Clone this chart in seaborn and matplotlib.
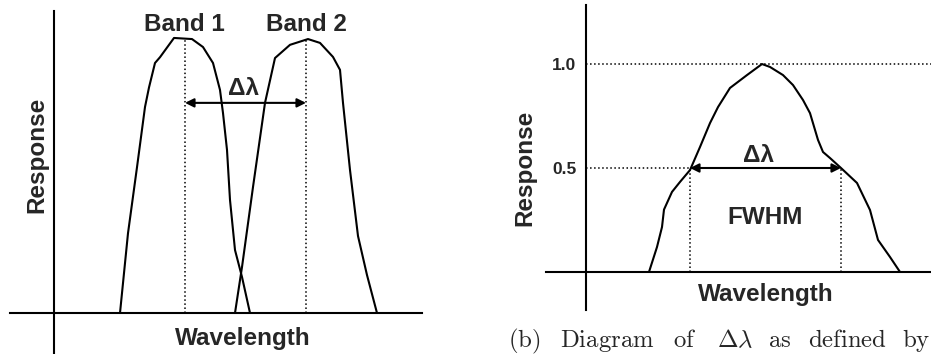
import numpy as np
import pandas as pd
import matplotlib
matplotlib.use('Agg')
import matplotlib.pyplot as plt
import seaborn as sns

# Painel (a): duas bandas espectrais (comprimento de onda em unidades arbitrárias)
band1_w = [6.6, 7.4, 8.3, 9.1, 9.5, 10.1, 10.6, 12.0, 13.8, 14.9, 15.9, 16.6, 16.9, 17.3, 17.6, 18.1, 18.8, 19.6]
band1_r = [0.0, 0.29, 0.53, 0.749, 0.82, 0.909, 0.93, 1.0, 0.996, 0.967, 0.909, 0.811, 0.727, 0.593, 0.411, 0.229, 0.131, 0.0]
band2_w = [18.1, 18.8, 19.9, 21.1, 22.1, 23.6, 25.4, 26.6, 27.9, 28.6, 28.9, 29.6, 30.4, 31.3, 32.3]
band2_r = [0.0, 0.167, 0.458, 0.764, 0.927, 0.975, 0.996, 0.982, 0.931, 0.884, 0.764, 0.52, 0.28, 0.138, 0.0]
center1 = 13.1
center2 = 25.2

# Painel (b): definição FWHM
fwhm_w = [6.3, 7.1, 7.6, 7.8, 8.6, 9.4, 10.4, 11.4, 12.4, 13.2, 14.4, 16.1, 17.6, 18.4, 19.7,
          20.7, 21.7, 22.4, 23.2, 23.7, 24.4, 25.5, 27.1, 28.4, 29.2, 30.4, 31.4]
fwhm_r = [0.0, 0.120, 0.216, 0.300, 0.385, 0.433, 0.490, 0.601, 0.716, 0.793, 0.885, 0.947, 1.0, 0.986, 0.947,
          0.899, 0.827, 0.764, 0.635, 0.577, 0.548, 0.50, 0.428, 0.298, 0.154, 0.072, 0.0]
half_left = 10.4
half_right = 25.5
yticks = [0.5, 1.0]
ytick_labels = ['0.5', '1.0']

df1 = pd.DataFrame({'w': band1_w, 'r': band1_r})
df2 = pd.DataFrame({'w': band2_w, 'r': band2_r})
dff = pd.DataFrame({'w': fwhm_w, 'r': fwhm_r})

sns.set_style('white')
plt.rcParams['font.family'] = ['Liberation Sans', 'DejaVu Sans']
plt.rcParams['font.weight'] = 'bold'
plt.rcParams['mathtext.fontset'] = 'cm'

fig = plt.figure(figsize=(9.31, 3.54), dpi=100)
W, H = 931, 354

def make_axes(x0, x1, y0, y1):
    return fig.add_axes([x0 / W, 1 - y1 / H, (x1 - x0) / W, (y1 - y0) / H])

LW = 1.5
FS = 17.5

# ---------- painel (a)
ax = make_axes(10, 422, 11, 354)
sns.lineplot(data=df1, x='w', y='r', ax=ax, color='black', linewidth=LW, sort=False)
sns.lineplot(data=df2, x='w', y='r', ax=ax, color='black', linewidth=LW, sort=False)
top1 = np.interp(center1, band1_w, band1_r)
top2 = np.interp(center2, band2_w, band2_r)
ax.plot([center1, center1], [0, top1], color='black', linestyle=':', linewidth=1.1)
ax.plot([center2, center2], [0, top2], color='black', linestyle=':', linewidth=1.1)
ax.annotate('', xy=(center2, 0.764), xytext=(center1, 0.764),
            arrowprops=dict(arrowstyle='<|-|>', color='black', lw=1.5, mutation_scale=13,
                            shrinkA=0, shrinkB=0))
ax.text(18.9, 0.818, 'Δλ', ha='center', va='center', fontsize=FS, fontweight='bold')
ax.text(13.0, 1.05, 'Band 1', ha='center', va='center', fontsize=FS, fontweight='bold')
ax.text(25.2, 1.05, 'Band 2', ha='center', va='center', fontsize=FS, fontweight='bold')
ax.text(-1.7, 0.575, 'Response', ha='center', va='center', rotation=90, fontsize=FS, fontweight='bold')
ax.text(18.9, -0.091, 'Wavelength', ha='center', va='center', fontsize=FS, fontweight='bold')
ax.set_xlim(-4.4, 36.8)
ax.set_ylim(-0.149, 1.098)

# ---------- painel (b)
bx = make_axes(546, 931, 5, 310)
sns.lineplot(data=dff, x='w', y='r', ax=bx, color='black', linewidth=LW, sort=False)
bx.plot([0, 40], [1.0, 1.0], color='black', linestyle=':', linewidth=1.1)
bx.plot([0, half_left], [0.5, 0.5], color='black', linestyle=':', linewidth=1.1)
bx.plot([half_left, half_left], [0, 0.5], color='black', linestyle=':', linewidth=1.1)
bx.plot([half_right, half_right], [0, 0.5], color='black', linestyle=':', linewidth=1.1)
bx.annotate('', xy=(half_right, 0.5), xytext=(half_left, 0.5),
            arrowprops=dict(arrowstyle='<|-|>', color='black', lw=1.5, mutation_scale=13,
                            shrinkA=0, shrinkB=0))
bx.text(17.2, 0.56, 'Δλ', ha='center', va='center', fontsize=FS, fontweight='bold')
bx.text(17.9, 0.26, 'FWHM', ha='center', va='center', fontsize=FS, fontweight='bold')
bx.text(-6.1, 0.5, 'Response', ha='center', va='center', rotation=90, fontsize=FS, fontweight='bold')
bx.text(18.0, -0.11, 'Wavelength', ha='center', va='center', fontsize=FS, fontweight='bold')
bx.set_xlim(-4.0, 34.5)
bx.set_ylim(-0.183, 1.284)

for a in (ax, bx):
    a.set_xlabel('')
    a.set_ylabel('')
    a.spines['top'].set_visible(False)
    a.spines['right'].set_visible(False)
    a.spines['left'].set_position(('data', 0))
    a.spines['bottom'].set_position(('data', 0))
    for s in ('left', 'bottom'):
        a.spines[s].set_linewidth(LW)
        a.spines[s].set_color('black')
    a.set_xticks([])
    a.patch.set_alpha(0)
ax.set_yticks([])
# ticks definidos depois de mover as espinhas (set_position reinicia os ticks)
bx.set_yticks(yticks)
bx.set_yticklabels(ytick_labels, fontsize=12.5, fontweight='bold')
bx.tick_params(axis='y', length=0, pad=7)

# legenda parcial (cortada na borda direita, como no original)
caption = [(508, r'$\mathrm{(b)}$'), (560, r'$\mathrm{Diagram}$'), (673, r'$\mathrm{of}$'),
           (717, r'$\Delta\lambda$'), (768, r'$\mathrm{as}$'), (808, r'$\mathrm{defined}$'),
           (902, r'$\mathrm{by}$')]
for xp, word in caption:
    fig.text(xp / W, 1 - 347 / H, word, fontsize=17.8, ha='left', va='baseline')

fig.savefig('out.png', dpi=100)
